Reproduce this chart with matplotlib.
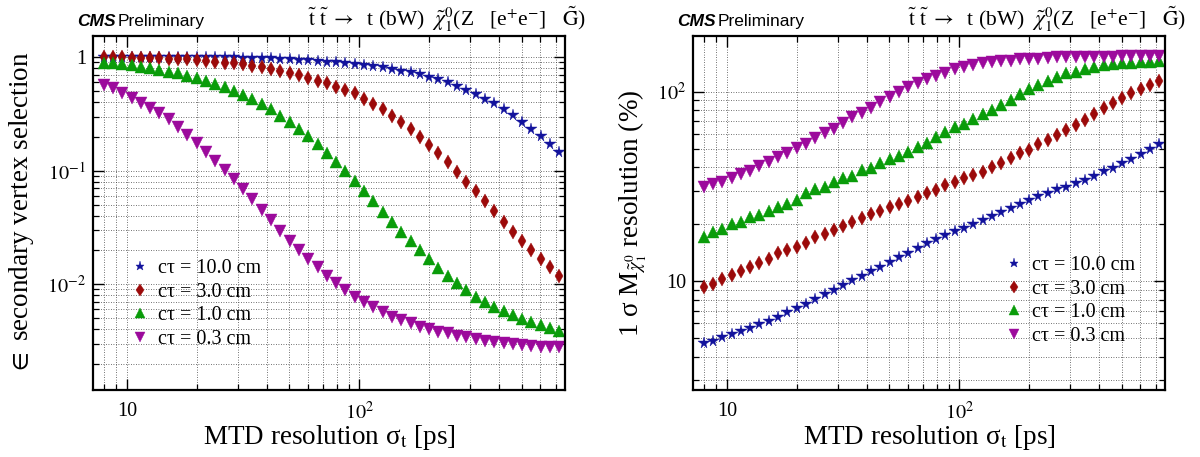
import numpy as np
import matplotlib
matplotlib.use('Agg')
import matplotlib.pyplot as plt
from matplotlib.ticker import FixedLocator, FixedFormatter, LogLocator, NullFormatter

plt.rcParams['font.family'] = ['Liberation Serif', 'DejaVu Serif']
plt.rcParams['mathtext.fontset'] = 'stix'

# ---------------- data ----------------
sigma_t = [7.943, 8.710, 9.550, 10.47, 11.48, 12.59, 13.80, 15.14, 16.60, 18.20,
           19.95, 21.88, 23.99, 26.30, 28.84, 31.62, 34.67, 38.02, 41.69, 45.71,
           50.12, 54.95, 60.26, 66.07, 72.44, 79.43, 87.10, 95.50, 104.7, 114.8,
           125.9, 138.0, 151.4, 166.0, 182.0, 199.5, 218.8, 239.9, 263.0, 288.4,
           316.2, 346.7, 380.2, 416.9, 457.1, 501.2, 549.5, 602.6, 660.7, 724.4]

labels = ['cτ = 10.0 cm', 'cτ = 3.0 cm', 'cτ = 1.0 cm', 'cτ = 0.3 cm']

# efficiency (left panel)
eff_ct100 = [1.0, 1.0, 1.0, 1.0, 1.0, 1.0, 1.0, 1.0, 1.0, 1.0,
             1.0, 1.0, 1.0, 1.0, 0.999, 0.993, 0.986, 0.982, 0.979, 0.97,
             0.960, 0.955, 0.947, 0.934, 0.915, 0.903, 0.891, 0.873, 0.861, 0.838,
             0.816, 0.794, 0.762, 0.742, 0.713, 0.675, 0.640, 0.610, 0.559, 0.515,
             0.475, 0.429, 0.393, 0.350, 0.308, 0.271, 0.235, 0.204, 0.173, 0.146]
eff_ct30 = [1.0, 1.0, 1.0, 0.995, 0.992, 0.986, 0.979, 0.973, 0.966, 0.960,
            0.947, 0.928, 0.909, 0.897, 0.885, 0.867, 0.838, 0.816, 0.783, 0.752,
            0.732, 0.698, 0.662, 0.622, 0.590, 0.551, 0.515, 0.481, 0.429, 0.388,
            0.348, 0.306, 0.271, 0.235, 0.200, 0.170, 0.1445, 0.1196, 0.0982, 0.0802,
            0.0664, 0.0542, 0.0443, 0.0356, 0.0291, 0.0241, 0.0201, 0.0167, 0.0141, 0.0119]
eff_ct10 = [0.897, 0.885, 0.873, 0.850, 0.827, 0.805, 0.773, 0.742, 0.722, 0.684,
            0.653, 0.622, 0.582, 0.544, 0.508, 0.469, 0.429, 0.388, 0.348, 0.304,
            0.269, 0.233, 0.203, 0.172, 0.1445, 0.1204, 0.0989, 0.0818, 0.0668, 0.0545,
            0.0436, 0.0356, 0.0291, 0.0242, 0.0201, 0.0166, 0.0140, 0.0118, 0.0102, 0.00891,
            0.00778, 0.00703, 0.00635, 0.00582, 0.00533, 0.00498, 0.00463, 0.00435, 0.00415, 0.00390]
eff_ct03 = [0.570, 0.533, 0.481, 0.441, 0.398, 0.355, 0.321, 0.284, 0.2415, 0.2067,
            0.1746, 0.1474, 0.1228, 0.1016, 0.0841, 0.0687, 0.0561, 0.0451, 0.0369, 0.0297,
            0.0242, 0.0201, 0.0166, 0.0141, 0.0118, 0.0102, 0.00891, 0.00778, 0.00703, 0.00627,
            0.00574, 0.00518, 0.00485, 0.00453, 0.00423, 0.00401, 0.00382, 0.00370, 0.00353, 0.00341,
            0.00328, 0.00319, 0.00312, 0.00306, 0.00298, 0.00292, 0.00288, 0.00282, 0.00282, 0.00279]

# mass resolution in % (right panel)
res_ct100 = [4.71, 4.86, 5.10, 5.25, 5.47, 5.69, 5.95, 6.20, 6.51, 6.87,
             7.21, 7.59, 8.04, 8.54, 9.00, 9.56, 10.16, 10.66, 11.33, 11.94,
             12.59, 13.38, 14.15, 14.93, 15.86, 16.72, 17.55, 18.43, 19.18, 20.05,
             21.05, 22.18, 23.12, 24.27, 25.57, 26.85, 28.3, 29.3, 30.55, 31.55,
             32.9, 34.2, 36.1, 38.0, 39.7, 42.0, 44.2, 46.8, 49.7, 52.8]
res_ct30 = [9.30, 9.68, 10.24, 10.8, 11.33, 11.94, 12.53, 13.1, 14.05, 14.6,
            15.2, 16.0, 17.1, 17.8, 18.65, 19.6, 20.6, 21.5, 22.6, 23.6,
            24.6, 25.6, 26.6, 27.7, 29.1, 30.3, 32.2, 33.5, 34.9, 36.4,
            37.8, 40.2, 42.2, 44.5, 47.3, 49.3, 52.8, 55.6, 59.1, 62.8,
            66.7, 70.9, 76.0, 81.8, 86.9, 92.3, 98.1, 103.3, 108.5, 113.9]
res_ct10 = [17.2, 18.1, 18.8, 20.05, 20.6, 21.8, 22.4, 23.5, 24.7, 25.6,
            27.0, 29.1, 30.6, 31.6, 33.5, 34.9, 35.9, 38.6, 39.4, 42.2,
            44.0, 45.8, 48.3, 51.3, 53.8, 57.5, 61.5, 65.4, 67.5, 71.5,
            76.3, 80.1, 85.1, 90.4, 97.3, 102.9, 108.5, 114.3, 120.0, 125.0,
            127.5, 131.2, 134.5, 138.3, 140.0, 141.1, 142.2, 142.9, 143.9, 145.2]
res_ct03 = [31.6, 32.6, 33.5, 35.2, 36.8, 38.3, 40.6, 42.8, 45.1, 47.3,
            50.3, 53.0, 57.2, 60.3, 63.3, 68.1, 73.2, 77.5, 82.4, 88.6,
            94.1, 100.0, 106.3, 111.6, 116.2, 121.0, 126.0, 131.2, 135.5, 137.7,
            141.1, 142.9, 144.6, 145.8, 148.2, 148.2, 149.4, 150.6, 151.8, 151.8,
            151.8, 151.8, 153.0, 153.0, 153.0, 153.7, 153.7, 153.7, 154.3, 154.3]

eff_series = [eff_ct100, eff_ct30, eff_ct10, eff_ct03]
res_series = [res_ct100, res_ct30, res_ct10, res_ct03]

# ---------------- style ----------------
colors = ['#12129c', '#9c0a0a', '#0a9c0a', '#9c0a9c']
markers = ['*', 'd', '^', 'v']
msizes = [8.5, 7.5, 9, 9]

W, H = 1200, 457
fig = plt.figure(figsize=(W / 100, H / 100), dpi=100)


def px_axes(x0, y0, x1, y1):
    return fig.add_axes([x0 / W, 1 - y1 / H, (x1 - x0) / W, (y1 - y0) / H])


axL = px_axes(93, 36, 565, 390)
axR = px_axes(693, 36, 1165, 390)

for ax in (axL, axR):
    ax.set_xscale('log')
    ax.set_yscale('log')
    ax.set_xlim(7.15, 766)
    for s in ax.spines.values():
        s.set_linewidth(1.6)
    ax.tick_params(which='both', direction='in', top=True, right=True, labelsize=14.5)
    ax.tick_params(axis='x', which='both', pad=8.5)
    ax.tick_params(axis='y', which='both', pad=5)
    ax.tick_params(which='major', length=8, width=1.0)
    ax.tick_params(which='minor', length=4.5, width=0.9)
    ax.xaxis.set_major_locator(FixedLocator([10, 100]))
    ax.xaxis.set_major_formatter(FixedFormatter(['10', '$10^{2}$']))
    ax.xaxis.set_minor_locator(LogLocator(base=10, subs=np.arange(2, 10)))
    ax.xaxis.set_minor_formatter(NullFormatter())
    ax.yaxis.set_minor_locator(LogLocator(base=10, subs=np.arange(2, 10)))
    ax.yaxis.set_minor_formatter(NullFormatter())
    ax.grid(True, which='both', color='#444444', linestyle=(0, (1, 2)), linewidth=0.6)
    ax.set_axisbelow(True)
    ax.set_xlabel('MTD resolution σ$_{\\mathrm{t}}$ [ps]', fontsize=19.5, labelpad=-1)

axL.set_ylim(0.00117, 1.54)
axL.yaxis.set_major_locator(FixedLocator([0.01, 0.1, 1]))
axL.yaxis.set_major_formatter(FixedFormatter(['$10^{-2}$', '$10^{-1}$', '1']))
axL.set_ylabel('$\\in$ secondary vertex selection', fontsize=19.5, labelpad=8)

axR.set_ylim(2.67, 197)
axR.yaxis.set_major_locator(FixedLocator([10, 100]))
axR.yaxis.set_major_formatter(FixedFormatter(['10', '$10^{2}$']))
axR.set_ylabel('1 σ M$_{\\tilde{\\chi}^{0}_{1}}$ resolution (%)', fontsize=19.5, labelpad=6)

for ax, series in ((axL, eff_series), (axR, res_series)):
    for ys, c, m, ms, lab in zip(series, colors, markers, msizes, labels):
        ax.plot(sigma_t, ys, linestyle='none', marker=m, markersize=ms, color=c,
                markeredgewidth=0.3, markeredgecolor=c, label=lab, clip_on=True)

leg_kw = dict(frameon=False, fontsize=14.5, handlelength=0.9, handletextpad=0.45,
              labelspacing=0.22, borderpad=0, borderaxespad=0, markerscale=0.8)
axL.legend(loc='upper left', bbox_to_anchor=((131 - 93) / 472, (390 - 259) / 354), **leg_kw)
axR.legend(loc='upper left', bbox_to_anchor=((1005 - 693) / 472, (390 - 256) / 354), **leg_kw)

# headers
for off in (0, 600):
    fig.text((77 + off) / W, 1 - 26 / H, 'CMS', family='Liberation Sans', fontweight='bold',
             fontstyle='italic', fontsize=12.5, va='baseline', ha='left')
    fig.text((118 + off) / W, 1 - 26 / H, 'Preliminary', family='Liberation Sans',
             fontsize=12.5, va='baseline', ha='left')
    fig.text((308 + off) / W, 1 - 26 / H,
             '$\\tilde{\\mathrm{t}}\\ \\tilde{\\mathrm{t}}\\ \\rightarrow\\ \\ $t (bW)  '
             '$\\tilde{\\chi}^{0}_{1}$(Z   [e$^{+}$e$^{-}$]   $\\tilde{\\mathrm{G}}$)',
             fontsize=15.5, va='baseline', ha='left')

fig.savefig('out.png', dpi=100)
